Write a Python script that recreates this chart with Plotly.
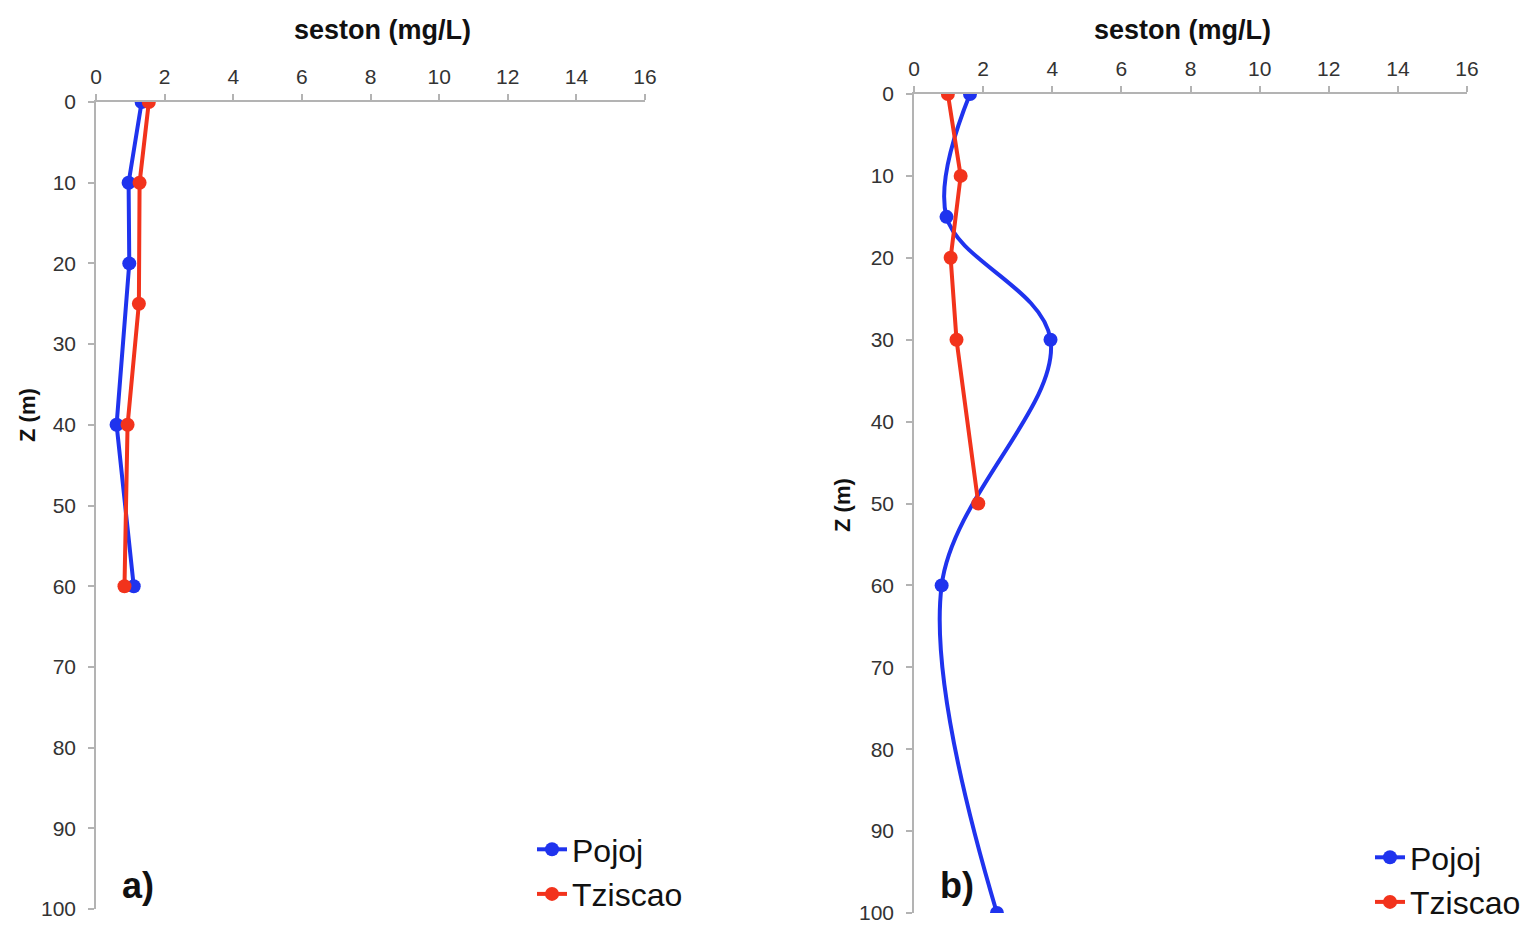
import plotly.graph_objects as go

# ---- data ----
a_pojoj_depth = [0, 10, 20, 40, 60]
a_pojoj_seston = [1.33, 0.95, 0.97, 0.60, 1.10]
a_tziscao_depth = [0, 10, 25, 40, 60]
a_tziscao_seston = [1.54, 1.27, 1.25, 0.92, 0.83]

b_pojoj_depth = [0, 15, 30, 60, 100]
b_pojoj_seston = [1.62, 0.94, 3.95, 0.80, 2.40]
b_tziscao_depth = [0, 10, 20, 30, 50]
b_tziscao_seston = [0.98, 1.35, 1.06, 1.23, 1.86]

x_ticks = [0, 2, 4, 6, 8, 10, 12, 14, 16]
y_ticks = [0, 10, 20, 30, 40, 50, 60, 70, 80, 90, 100]

BLUE = "#1f33ee"
RED = "#f2331c"
FONT = "Liberation Sans, Arial, sans-serif"
W, H = 1527, 925

fig = go.Figure()

def add(x, y, name, color, xa, ya, leg, shape="linear"):
    fig.add_trace(go.Scatter(
        x=x, y=y, name=name, mode="lines+markers",
        line=dict(color=color, width=4, shape=shape, smoothing=1),
        marker=dict(color=color, size=14),
        xaxis=xa, yaxis=ya, legend=leg))

add(a_pojoj_seston, a_pojoj_depth, "Pojoj", BLUE, "x", "y", "legend")
add(a_tziscao_seston, a_tziscao_depth, "Tziscao", RED, "x", "y", "legend")
add(b_pojoj_seston, b_pojoj_depth, "Pojoj", BLUE, "x2", "y2", "legend2", "spline")
add(b_tziscao_seston, b_tziscao_depth, "Tziscao", RED, "x2", "y2", "legend2")

axcol = "#b3b3b3"
tickfont = dict(family=FONT, size=21, color="#333333")

def xax(domain, anchor):
    return dict(domain=domain, anchor=anchor, side="top", range=[0, 16],
                tickvals=x_ticks, showgrid=False, zeroline=False,
                showline=True, linecolor=axcol, linewidth=1.5,
                ticks="outside", ticklen=6, tickcolor=axcol, tickwidth=1.5,
                tickfont=tickfont, ticklabelstandoff=2, automargin=False)

def yax(domain, anchor):
    return dict(domain=domain, anchor=anchor, range=[100, 0],
                tickvals=y_ticks, showgrid=False, zeroline=False,
                showline=True, linecolor=axcol, linewidth=1.5,
                ticks="outside", ticklen=6, tickcolor=axcol, tickwidth=1.5,
                tickfont=tickfont, ticklabelstandoff=8, automargin=False)

fig.update_layout(
    width=W, height=H,
    margin=dict(l=0, r=0, t=0, b=0, autoexpand=False),
    paper_bgcolor="white", plot_bgcolor="white",
    font=dict(family=FONT, color="#111111"),
    xaxis=xax([96 / W, 645 / W], "y"),
    yaxis=yax([1 - 909 / H, 1 - 102 / H], "x"),
    xaxis2=xax([914 / W, 1467 / W], "y2"),
    yaxis2=yax([1 - 913 / H, 1 - 94 / H], "x2"),
    legend=dict(x=532 / W, y=1 - 822 / H, xanchor="left", yanchor="top",
                font=dict(family=FONT, size=32, color="#111111"),
                bgcolor="rgba(0,0,0,0)", itemwidth=30, tracegroupgap=0),
    legend2=dict(x=1370 / W, y=1 - 830 / H, xanchor="left", yanchor="top",
                 font=dict(family=FONT, size=32, color="#111111"),
                 bgcolor="rgba(0,0,0,0)", itemwidth=30, tracegroupgap=0),
    showlegend=True,
)

def ann(text, x, y, size, angle=0):
    fig.add_annotation(text=text, x=x / W, y=1 - y / H, xref="paper", yref="paper",
                       showarrow=False, textangle=angle,
                       font=dict(family=FONT, size=size, color="#111111"),
                       xanchor="center", yanchor="middle")

ann("<b>seston (mg/L)</b>", 382, 30, 27)
ann("<b>seston (mg/L)</b>", 1182, 30, 27)
ann("<b>Z (m)</b>", 27, 415, 22, -90)
ann("<b>Z (m)</b>", 842, 505, 22, -90)
ann("<b>a)</b>", 138, 885, 36)
ann("<b>b)</b>", 957, 885, 36)

fig.write_html("out.html")
